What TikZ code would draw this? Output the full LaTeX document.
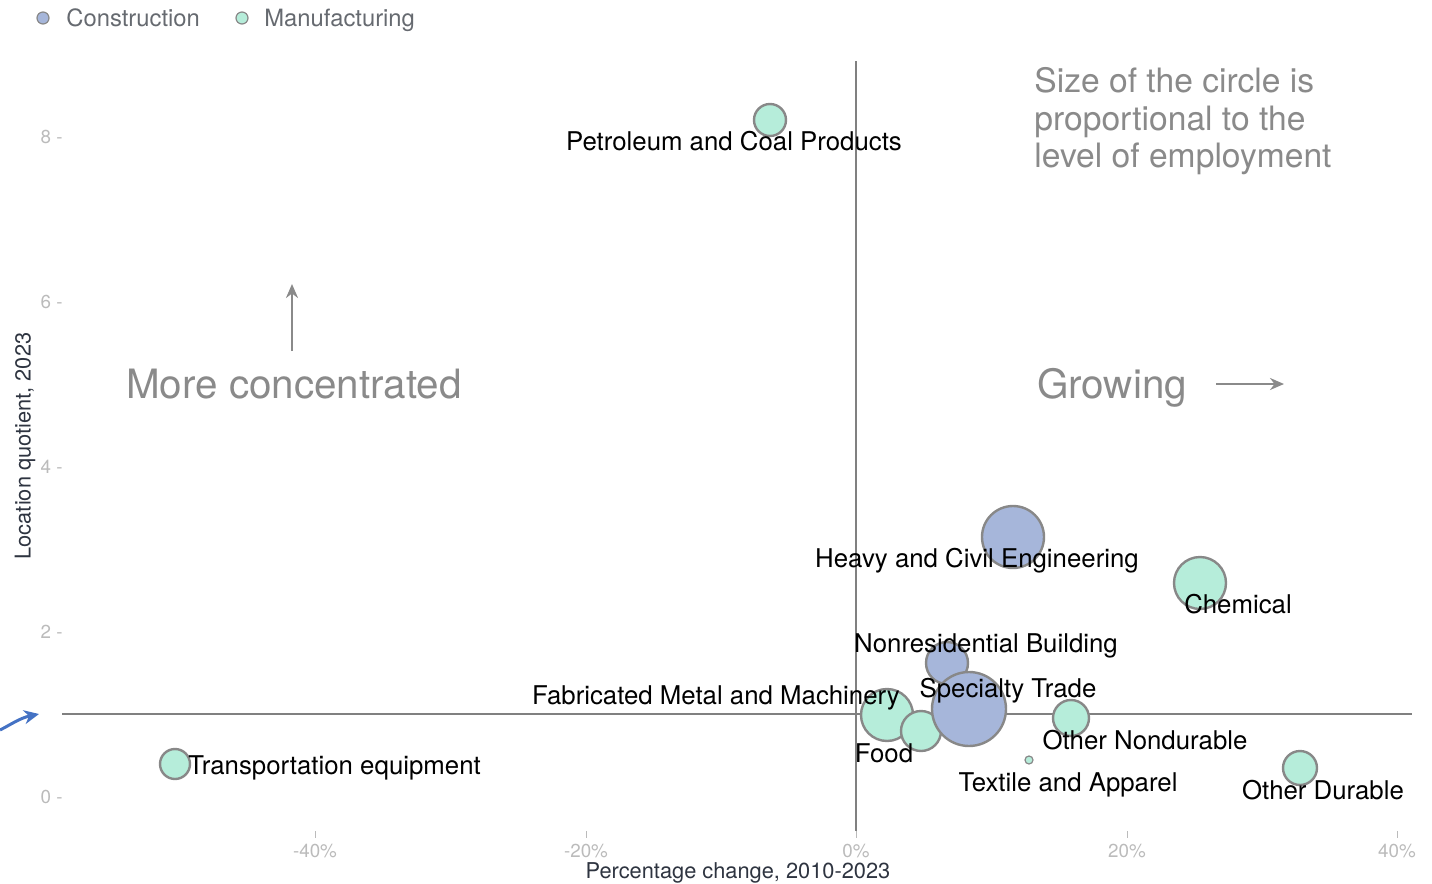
\documentclass[tikz,border=0pt]{standalone}
\usepackage{fontspec}
\setmainfont{TeX Gyre Heros}
\usetikzlibrary{arrows.meta}
\definecolor{conC}{HTML}{A6B6DA}
\definecolor{manC}{HTML}{B6EDDA}
\definecolor{bordC}{HTML}{888888}
\definecolor{axC}{HTML}{808080}
\definecolor{tickC}{HTML}{BBBBBB}
\definecolor{titC}{HTML}{2E3440}
\definecolor{annC}{HTML}{8A8A8A}
\definecolor{legC}{HTML}{666A70}
\definecolor{blueC}{HTML}{4472C4}
\tikzset{
  bub/.style={circle, draw=bordC, line width=1.2pt, inner sep=0pt, minimum size=#1pt},
  con/.style={bub=#1, fill=conC},
  man/.style={bub=#1, fill=manC},
  lab/.style={font=\fontsize{12.9}{14}\selectfont, text=black, inner sep=0pt},
  tickl/.style={font=\fontsize{9.4}{10}\selectfont, text=tickC, inner sep=0pt},
  ann/.style={font=\fontsize{20.2}{24}\selectfont, text=annC, inner sep=0pt, anchor=base},
  axtitle/.style={font=\fontsize{10.9}{12}\selectfont, text=titC, inner sep=0pt},
  legtext/.style={anchor=base west, font=\fontsize{11.9}{13}\selectfont, text=legC, inner sep=0pt},
  refline/.style={draw=axC, line width=1.3pt},
  annarrow/.style={draw=annC, line width=1.3pt, -{Stealth[length=7pt,width=6pt]}},
}
\begin{document}
\begin{tikzpicture}[x=0.5pt,y=-0.5pt]
\useasboundingbox (0,0) rectangle (1432,884);
% legend
\node[con=6, line width=0.6pt] (lc) at (43,18) {};
\node[legtext] (lct) at (66,26) {Construction};
\node[man=6, line width=0.6pt] (lm) at (242,18) {};
\node[legtext] (lmt) at (264,26) {Manufacturing};
% y ticks
\foreach \v/\yy in {8/137,6/302,4/467,2/632,0/797}{
  \node[tickl, anchor=east] (yt\v) at (63,\yy) {\v\ -};
}
% x ticks
\foreach \n/\lab/\xx in {a/-40\%/315,b/-20\%/586,c/0\%/856,d/20\%/1127,e/40\%/1397}{
  \coordinate (xt\n) at (\xx,831);
  \coordinate (xu\n) at (\xx,838);
  \draw[tickC, line width=0.5pt] (xt\n) -- (xu\n);
  \node[tickl] (xl\n) at (\xx,851) {\lab};
}
% axis titles
\node[axtitle] (xtitle) at (738,873) {Percentage change, 2010-2023};
\node[axtitle, rotate=90] (ytitle) at (25,446) {Location quotient, 2023};
% reference lines
\coordinate (hl) at (62,714);
\coordinate (hr) at (1412,714);
\coordinate (vt) at (856,61);
\coordinate (vb) at (856,831);
\draw[refline] (hl) -- (hr);
\draw[refline] (vt) -- (vb);
% blue arrow
\coordinate (ba) at (0,730);
\coordinate (bb) at (39,714);
\draw[blueC, line width=1.5pt, -{Stealth[length=7.5pt,width=7pt]}] (ba) .. controls (10,725) and (20,718) .. (bb);
% annotations
\node[ann] (mc) at (294,398) {More concentrated};
\coordinate (ua) at (292,351);
\coordinate (ub) at (292,284);
\draw[annarrow] (ua) -- (ub);
\node[ann] (gr) at (1112,398) {Growing};
\coordinate (ra) at (1216,384);
\coordinate (rb) at (1284,384);
\draw[annarrow] (ra) -- (rb);
\node[anchor=north west, align=left, font=\fontsize{16.8}{18.75}\selectfont, text=annC, inner sep=0pt] (size) at (1034,67) {Size of the circle is\\proportional to the\\level of employment};
% bubbles
\node[man=16] (pet) at (770,120) {};
\node[man=15] (tra) at (175,764) {};
\node[con=31] (hce) at (1013,537) {};
\node[man=26] (che) at (1200,583) {};
\node[man=26] (fab) at (887,715) {};
\node[man=20] (foo) at (921,731) {};
\node[con=21] (nrb) at (947,663) {};
\node[con=37] (spt) at (969,709) {};
\node[man=18] (ond) at (1071,718) {};
\node[man=4, line width=0.6pt] (tex) at (1029,760) {};
\node[man=17] (odu) at (1300,768) {};
% labels
\node[lab] (lpet) at (734,141) {Petroleum and Coal Products};
\node[lab, anchor=west] (ltra) at (188,768) {Transportation equipment};
\node[lab] (lhce) at (977,561) {Heavy and Civil Engineering};
\node[lab] (lche) at (1238,604) {Chemical};
\node[lab] (lnrb) at (986,646) {Nonresidential Building};
\node[lab] (lspt) at (1008,691) {Specialty Trade};
\node[lab] (lfab) at (716,698) {Fabricated Metal and Machinery};
\node[lab] (lfoo) at (884,753) {Food};
\node[lab] (lond) at (1145,740) {Other Nondurable};
\node[lab] (ltex) at (1068,785) {Textile and Apparel};
\node[lab] (lodu) at (1323,790) {Other Durable};
\end{tikzpicture}
\end{document}
